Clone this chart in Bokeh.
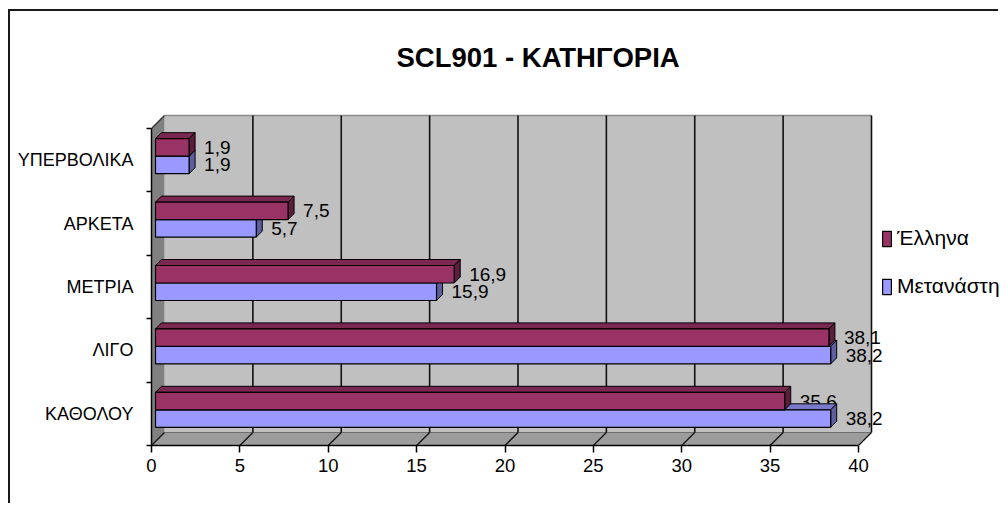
from bokeh.plotting import figure
from bokeh.models import ColumnDataSource, FixedTicker, Legend, LegendItem, Range1d
from bokeh.core.properties import value
from bokeh.embed import file_html
from bokeh.resources import INLINE

# ---- data ----
categories = ["ΚΑΘΟΛΟΥ", "ΛΙΓΟ", "ΜΕΤΡΙΑ", "ΑΡΚΕΤΑ", "ΥΠΕΡΒΟΛΙΚΑ"]
ellina = [35.6, 38.1, 16.9, 7.5, 1.9]
metanasti = [38.2, 38.2, 15.9, 5.7, 1.9]
series_names = ["Έλληνα", "Μετανάστη"]
x_ticks = [0, 5, 10, 15, 20, 25, 30, 35, 40]
title_text = "SCL901 - ΚΑΤΗΓΟΡΙΑ"

# ---- geometry (3D look) ----
XMAX = 40
X_PX = 17.675          # screen px per x unit
Y_PX = 63.4            # screen px per category
DX = 13 / X_PX         # depth offset in x units
DY = 13 / Y_PX         # depth offset in category units
F0, F1 = 4 / 13, 10 / 13   # bar depth span (fraction of depth)
BAR_H = 17.5 / Y_PX

FONT = "Liberation Sans"

C_MAROON = "#993366"
C_BLUE = "#9999FF"


def shade(hx, f):
    hx = hx.lstrip("#")
    r, g, b = (int(hx[i:i + 2], 16) for i in (0, 2, 4))
    return "#%02x%02x%02x" % (int(r * f), int(g * f), int(b * f))


ncat = len(categories)
y_lo, y_hi = -0.5, ncat - 0.5

W, H = 990, 494
ML, MT, MB = 141, 89, 60
p = figure(width=W, height=H,
           x_range=Range1d(0, (W - ML) / X_PX),
           y_range=Range1d(y_lo, y_lo + (H - MT - MB) / Y_PX),
           output_backend="svg", toolbar_location=None,
           min_border_left=ML, min_border_right=0,
           min_border_top=MT, min_border_bottom=MB)
p.styles = {"margin-left": "8px", "margin-top": "9px",
            "border-left": "2px solid #1a1a1a", "border-top": "2px solid #1a1a1a"}
p.grid.visible = False
p.outline_line_color = None
p.background_fill_color = "white"
p.border_fill_color = "white"

# ---- walls ----
p.quad(left=[DX], right=[XMAX + DX], bottom=[y_lo + DY], top=[y_hi + DY],
       fill_color="#C0C0C0", line_color=None)
p.patch([0, XMAX, XMAX + DX, DX], [y_lo, y_lo, y_lo + DY, y_lo + DY],
        fill_color="#9c9c9c", line_color=None)
p.patch([0, 0, DX, DX], [y_lo, y_hi, y_hi + DY, y_lo + DY],
        fill_color="#808080", line_color=None)
p.line([DX, XMAX + DX], [y_hi + DY, y_hi + DY], line_color="#8a8a8a", line_width=1.5)
p.line([0, DX], [y_hi, y_hi + DY], line_color="#333333", line_width=1.5)
p.line([DX, XMAX + DX], [y_lo + DY, y_lo + DY], line_color="#6e6e6e", line_width=1)

gx = [t + DX for t in x_ticks if t > 0]
p.segment(x0=gx, y0=[y_lo + DY] * len(gx), x1=gx, y1=[y_hi + DY] * len(gx),
          line_color="#111111", line_width=1.6)
p.segment(x0=x_ticks, y0=[y_lo] * len(x_ticks), x1=[t + DX for t in x_ticks],
          y1=[y_lo + DY] * len(x_ticks), line_color="#111111", line_width=1.3)

# ---- bars ----
dd = (F1 - F0) * DX
de = (F1 - F0) * DY


def bar_sources(vals, upper):
    front = dict(left=[], right=[], bottom=[], top=[])
    tx, ty, sx, sy = [], [], [], []
    lab = dict(x=[], y=[], text=[])
    for i, v in enumerate(vals):
        c = i + F0 * DY
        b, t = (c, c + BAR_H) if upper else (c - BAR_H, c)
        x0 = F0 * DX
        x1 = v + F0 * DX
        front["left"].append(x0)
        front["right"].append(x1)
        front["bottom"].append(b)
        front["top"].append(t)
        tx.append([x0, x1, x1 + dd, x0 + dd])
        ty.append([t, t, t + de, t + de])
        sx.append([x1, x1, x1 + dd, x1 + dd])
        sy.append([b, t, t + de, b + de])
        lab["x"].append(x1)
        lab["y"].append((b + t) / 2)
        lab["text"].append(("%.1f" % v).replace(".", ","))
    return front, (tx, ty), (sx, sy), lab


fm, topm, sidem, labm = bar_sources(ellina, True)
fb, topb, sideb, labb = bar_sources(metanasti, False)

label_kw = dict(text_font=value(FONT), text_font_size="19px", text_color="black",
                text_align="left", text_baseline="middle", x_offset=15)

p.text(x="x", y="y", text="text", source=ColumnDataSource(labm), **label_kw)

p.patches(topb[0], topb[1], fill_color=shade(C_BLUE, 0.8), line_color="black", line_width=1)
p.patches(sideb[0], sideb[1], fill_color=shade(C_BLUE, 0.62), line_color="black", line_width=1)
r_blue = p.quad(source=ColumnDataSource(fb), left="left", right="right", bottom="bottom",
                top="top", fill_color=C_BLUE, line_color="black", line_width=1.2)
p.patches(topm[0], topm[1], fill_color=shade(C_MAROON, 0.8), line_color="black", line_width=1)
p.patches(sidem[0], sidem[1], fill_color=shade(C_MAROON, 0.6), line_color="black", line_width=1)
r_maroon = p.quad(source=ColumnDataSource(fm), left="left", right="right", bottom="bottom",
                  top="top", fill_color=C_MAROON, line_color="black", line_width=1.2)

p.text(x="x", y="y", text="text", source=ColumnDataSource(labb), **label_kw)

# ---- axes ----
xa = p.xaxis[0]
xa.ticker = FixedTicker(ticks=x_ticks)
xa.bounds = (0, XMAX)
xa.axis_line_color = "black"
xa.axis_line_width = 1.5
xa.major_tick_in = 0
xa.major_tick_out = 7
xa.major_tick_line_width = 1.5
xa.minor_tick_line_color = None
xa.major_label_standoff = 6
xa.major_label_text_font = FONT
xa.major_label_text_font_size = "18.5px"
xa.major_label_text_color = "black"

ya = p.yaxis[0]
ya.ticker = FixedTicker(ticks=list(range(ncat)),
                        minor_ticks=[k - 0.5 for k in range(ncat + 1)])
ya.major_label_overrides = {i: c for i, c in enumerate(categories)}
ya.bounds = (y_lo, y_hi)
ya.axis_line_color = "black"
ya.axis_line_width = 1.5
ya.major_tick_in = 0
ya.major_tick_out = 0
ya.minor_tick_in = 0
ya.minor_tick_out = 5
ya.minor_tick_line_color = "black"
ya.minor_tick_line_width = 1.5
ya.major_label_standoff = 13
ya.major_label_text_font = FONT
ya.major_label_text_font_size = "18px"
ya.major_label_text_color = "black"

# ---- title ----
p.title.text = title_text
p.title.align = "left"
p.title.offset = 245
p.title.standoff = 55
p.title.text_font = FONT
p.title.text_font_style = "bold"
p.title.text_font_size = "27.5px"
p.title.text_color = "black"

# ---- legend ----
legend = Legend(items=[LegendItem(label=series_names[0], renderers=[r_maroon]),
                       LegendItem(label=series_names[1], renderers=[r_blue])],
                location=(730, 147), orientation="vertical",
                glyph_width=11, glyph_height=19, label_height=19,
                label_standoff=5, spacing=24, padding=0, margin=0,
                border_line_color=None, background_fill_alpha=0,
                label_text_font=FONT, label_text_font_size="21px",
                label_text_color="black")
p.add_layout(legend)

open("out.html", "w").write(file_html(p, INLINE))
